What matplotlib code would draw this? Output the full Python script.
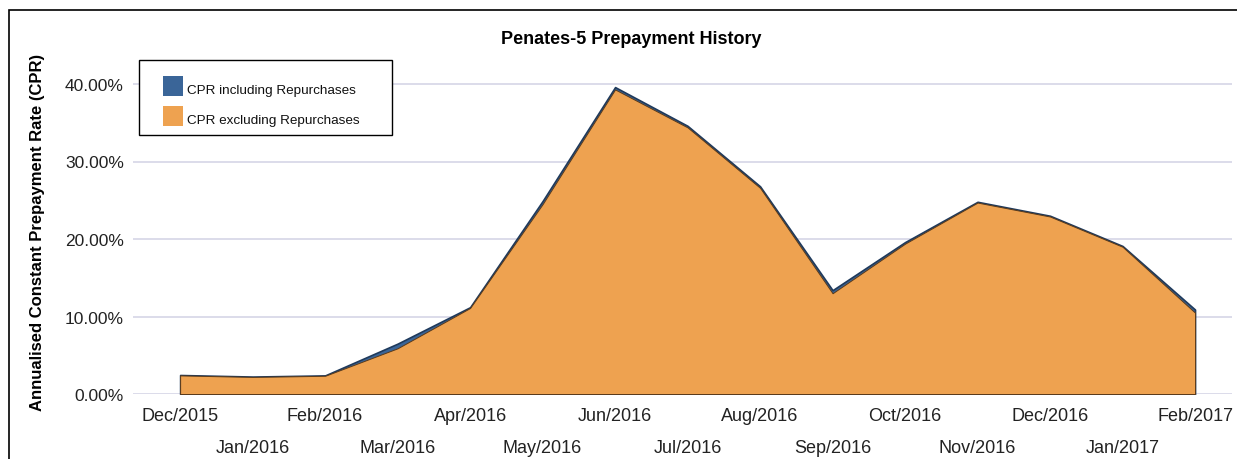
import matplotlib
matplotlib.use("Agg")
import matplotlib.pyplot as plt
from matplotlib.patches import Rectangle

plt.rcParams['font.family'] = ['Liberation Sans', 'DejaVu Sans']

months = ["Dec/2015", "Jan/2016", "Feb/2016", "Mar/2016", "Apr/2016", "May/2016",
          "Jun/2016", "Jul/2016", "Aug/2016", "Sep/2016", "Oct/2016", "Nov/2016",
          "Dec/2016", "Jan/2017", "Feb/2017"]
cpr_incl = [2.45, 2.25, 2.4, 6.5, 11.2, 24.9, 39.6, 34.6, 26.8, 13.4, 19.6, 24.8, 23.0, 19.1, 10.9]
cpr_excl = [2.4, 2.2, 2.35, 5.9, 11.1, 24.5, 39.3, 34.4, 26.6, 13.0, 19.4, 24.7, 22.9, 19.0, 10.5]
y_ticks = [0, 10, 20, 30, 40]
series_labels = ['CPR including Repurchases', 'CPR excluding Repurchases']

W, H = 1237, 460
fig = plt.figure(figsize=(W / 100, H / 100), dpi=100)
fig.patch.set_facecolor('white')

# figure frame
fig.patches.append(Rectangle((9 / W, -0.05), 1.1, (H - 11) / H + 0.05,
                             transform=fig.transFigure, fill=False,
                             edgecolor='black', linewidth=1.2, zorder=0))

left, right = 133 / W, 1232 / W
bottom = 1 - 395 / H
top = 1 - 69.5 / H
ax = fig.add_axes([left, bottom, right - left, top - bottom])

x = list(range(len(months)))
blue = '#3A6598'
orange = '#EEA250'
ax.fill_between(x, 0, cpr_incl, facecolor=blue, edgecolor='#1F3A5C', linewidth=1.2, zorder=2)
ax.fill_between(x, 0, cpr_excl, facecolor=orange, edgecolor='#5A3A1A', linewidth=0.7, zorder=3)

ax.set_xlim(-0.65, 14.51)
ax.set_ylim(0, 42)
ax.set_yticks(y_ticks)
ax.set_yticklabels([f"{v:.2f}%" for v in y_ticks], fontsize=12.5, color='#222222')
ax.yaxis.grid(True, color='#D6D6E6', linewidth=1.2, zorder=0)
ax.set_axisbelow(True)
for s in ax.spines.values():
    s.set_visible(False)
ax.tick_params(axis='y', length=0, pad=6.5)
ax.tick_params(axis='x', length=0)

ax.set_xticks(x)
ax.set_xticklabels(months, fontsize=13, color='#222222')
for i, t in enumerate(ax.xaxis.get_major_ticks()):
    t.set_pad(9.5 if i % 2 == 0 else 32.5)

ax.set_ylabel("Annualised Constant Prepayment Rate (CPR)", fontsize=12,
              fontweight='bold')
ax.yaxis.set_label_coords(-0.080, 0.5)

fig.text(631 / W, 1 - 40 / H, "Penates-5 Prepayment History", ha='center', va='center',
         fontsize=13, fontweight='bold')

# legend drawn by hand to match the reference box
fig.patches.append(Rectangle((139 / W, 1 - 136 / H), (392 - 139) / W, 75 / H,
                             transform=fig.transFigure, facecolor='white',
                             edgecolor='black', linewidth=1.0, zorder=5))
for i, (lab, col) in enumerate(zip(series_labels, [blue, orange])):
    cy = 87 + 30 * i
    fig.patches.append(Rectangle((163 / W, 1 - (cy + 10) / H), 20 / W, 20 / H,
                                 transform=fig.transFigure, facecolor=col,
                                 edgecolor='none', zorder=6))
    fig.text(187 / W, 1 - (cy + 4) / H, lab, ha='left', va='center',
             fontsize=9.7, color='#111111', zorder=7)

fig.savefig("out.png", dpi=100)
